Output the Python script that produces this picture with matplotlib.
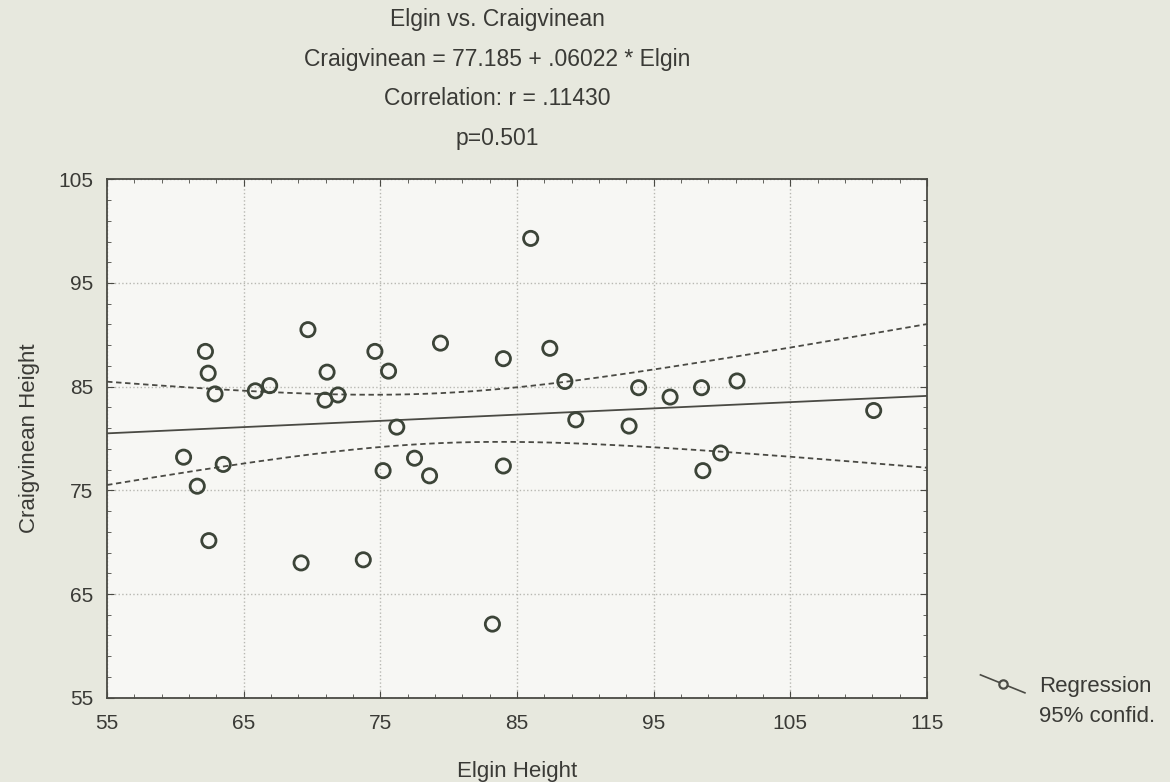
import numpy as np
import matplotlib.pyplot as plt
from matplotlib.lines import Line2D

plt.rcParams['font.family'] = ['Liberation Sans', 'DejaVu Sans']

# values
elgin = [62.2, 62.4, 62.9, 65.85, 66.9, 69.7, 71.1, 70.95, 71.9, 74.6,
         75.6, 76.2, 79.4, 84.0, 86.0, 87.4, 88.5, 89.3, 93.2, 93.9,
         96.2, 98.5, 101.1, 111.1, 60.6, 63.5, 61.6, 62.45, 69.2, 73.75,
         75.2, 77.5, 78.6, 84.0, 83.2, 99.9, 98.6]
craig = [88.4, 86.3, 84.3, 84.6, 85.1, 90.5, 86.4, 83.7, 84.2, 88.4,
         86.5, 81.1, 89.2, 87.7, 99.3, 88.7, 85.5, 81.8, 81.2, 84.9,
         84.0, 84.9, 85.55, 82.7, 78.2, 77.5, 75.4, 70.15, 68.0, 68.3,
         76.9, 78.1, 76.4, 77.35, 62.1, 78.6, 76.9]

intercept = 77.185
slope = 0.06022
x_ticks = [55, 65, 75, 85, 95, 105, 115]
y_ticks = [55, 65, 75, 85, 95, 105]
title_lines = ["Elgin vs. Craigvinean",
               "Craigvinean = 77.185 + .06022 * Elgin",
               "Correlation: r = .11430",
               "p=0.501"]

x = np.array(elgin)
y = np.array(craig)
n = len(x)

# regression line + 95% confidence band of the mean
xs = np.linspace(55, 115, 200)
fit = intercept + slope * xs
resid = y - (intercept + slope * x)
s = np.sqrt(np.sum(resid ** 2) / (n - 2))
sxx = np.sum((x - x.mean()) ** 2)
t = 2.03
half = t * s * np.sqrt(1 / n + (xs - x.mean()) ** 2 / sxx)

bg = '#e7e8de'
fig = plt.figure(figsize=(11.7, 7.82), dpi=100)
fig.patch.set_facecolor(bg)
ax = fig.add_axes([0.0915, 0.1078, 0.7008, 0.6629])
ax.set_facecolor('#f7f7f4')

ink = '#4a4a44'
txt = '#3a3a36'
ax.plot(xs, fit, color=ink, lw=1.3)
ax.plot(xs, fit + half, color=ink, lw=1.3, ls=(0, (3, 2)))
ax.plot(xs, fit - half, color=ink, lw=1.3, ls=(0, (3, 2)))
ax.scatter(x, y, s=105, facecolors='none', edgecolors='#3c4438', linewidths=2.0, zorder=3)

ax.set_xlim(55, 115)
ax.set_ylim(55, 105)
ax.set_xticks(x_ticks)
ax.set_yticks(y_ticks)
ax.set_xticks(np.arange(55, 116, 2), minor=True)
ax.set_yticks(np.arange(55, 106, 2), minor=True)
ax.tick_params(which='both', direction='in', top=True, right=True, color=ink)
ax.tick_params(which='major', length=5, labelsize=15, labelcolor=txt)
ax.tick_params(axis='x', which='major', pad=12)
ax.tick_params(axis='y', which='major', pad=10)
ax.tick_params(which='minor', length=3)
ax.grid(True, which='major', color='#b8b8b2', ls=':', lw=1.0)
for sp in ax.spines.values():
    sp.set_color(ink)
    sp.set_linewidth(1.3)

ax.set_xlabel('Elgin Height', fontsize=16, color=txt, labelpad=20)
ax.set_ylabel('Craigvinean Height', fontsize=16, color=txt, labelpad=13)

for i, line in enumerate(title_lines):
    fig.text(0.425, 0.975 - i * 0.0505, line, ha='center', va='center',
             fontsize=16.5, color=txt)

# legend outside the axes
lx = [0.838, 0.876]
fig.add_artist(Line2D(lx, [0.137, 0.114], color=ink, lw=1.2))
fig.add_artist(Line2D([np.mean(lx)], [0.1255], marker='o', ms=6, mfc=bg,
                      mec=ink, mew=1.6))
fig.text(0.888, 0.122, 'Regression', fontsize=16, color=txt, va='center')
fig.text(0.888, 0.084, '95% confid.', fontsize=16, color=txt, va='center')

plt.savefig('out.png', dpi=100, facecolor=fig.get_facecolor())
